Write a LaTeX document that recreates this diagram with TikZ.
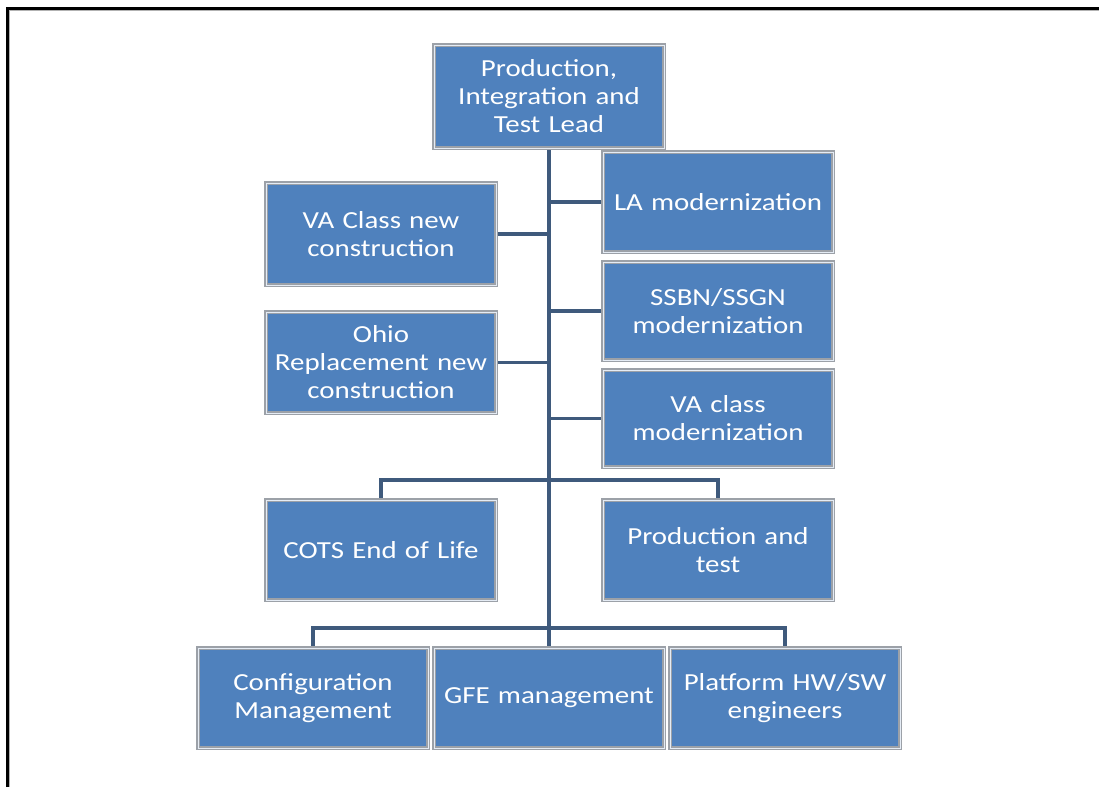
\documentclass[tikz,border=0pt]{standalone}
\usepackage{fontspec}
\setmainfont{Carlito}[FakeStretch=1.18]
\usetikzlibrary{backgrounds}
\definecolor{boxblue}{HTML}{4F81BD}
\definecolor{boxedge}{HTML}{9CA1A8}
\definecolor{linkc}{HTML}{3F5A7C}
\begin{document}
\begin{tikzpicture}[x=1pt,y=-1pt,
  orgbox/.style={rectangle, fill=boxblue, draw=boxedge, line width=3.5pt,
    minimum width=230pt, minimum height=100pt, inner sep=2pt,
    text width=226pt, align=center, text=white,
    font=\fontsize{24.5}{28}\selectfont,
    postaction={draw=white!85!boxblue, line width=0.8pt}},
  link/.style={draw=linkc, line width=3.8pt}]
\useasboundingbox (0,0) rectangle (1099,787);
% frame
\draw[line width=3pt, black] (7,787) -- (7,8) -- (1099,8);
\draw[line width=1pt, gray!60] (9.5,787) -- (9.5,10.5) -- (1099,10.5);
% boxes
\node[orgbox, minimum width=228pt, minimum height=103pt] (top) at (549,96.5) {Production,\\Integration and\\Test Lead};
\node[orgbox] (la) at (718,202) {LA modernization};
\node[orgbox, minimum height=102pt] (vac) at (381,234) {VA Class new\\construction};
\node[orgbox, minimum height=98pt] (ssbn) at (718,311) {SSBN/SSGN\\modernization};
\node[orgbox, minimum height=101pt] (ohio) at (381,362.5) {Ohio\\Replacement new\\construction};
\node[orgbox, minimum height=97pt] (vam) at (718,418.5) {VA class\\modernization};
\node[orgbox] (cots) at (381,550) {COTS End of Life};
\node[orgbox] (pt) at (718,550) {Production and\\test};
\node[orgbox] (cm) at (313,698) {Configuration\\Management};
\node[orgbox] (gfe) at (549,698) {GFE management};
\node[orgbox] (plat) at (785,698) {Platform HW/SW\\engineers};
% junctions
\coordinate (j1) at (549,480);
\coordinate (j2) at (549,628);
% connectors
\begin{scope}[on background layer]
\draw[link] (top.south) -- (gfe.north);
\draw[link] (la.west) -- (la.west -| top.south);
\draw[link] (vac.east) -- (vac.east -| top.south);
\draw[link] (ssbn.west) -- (ssbn.west -| top.south);
\draw[link] (ohio.east) -- (ohio.east -| top.south);
\draw[link] (vam.west) -- (vam.west -| top.south);
\draw[link] (cots.north) |- (j1) -| (pt.north);
\draw[link] (cm.north) |- (j2) -| (plat.north);
\end{scope}
\end{tikzpicture}
\end{document}
